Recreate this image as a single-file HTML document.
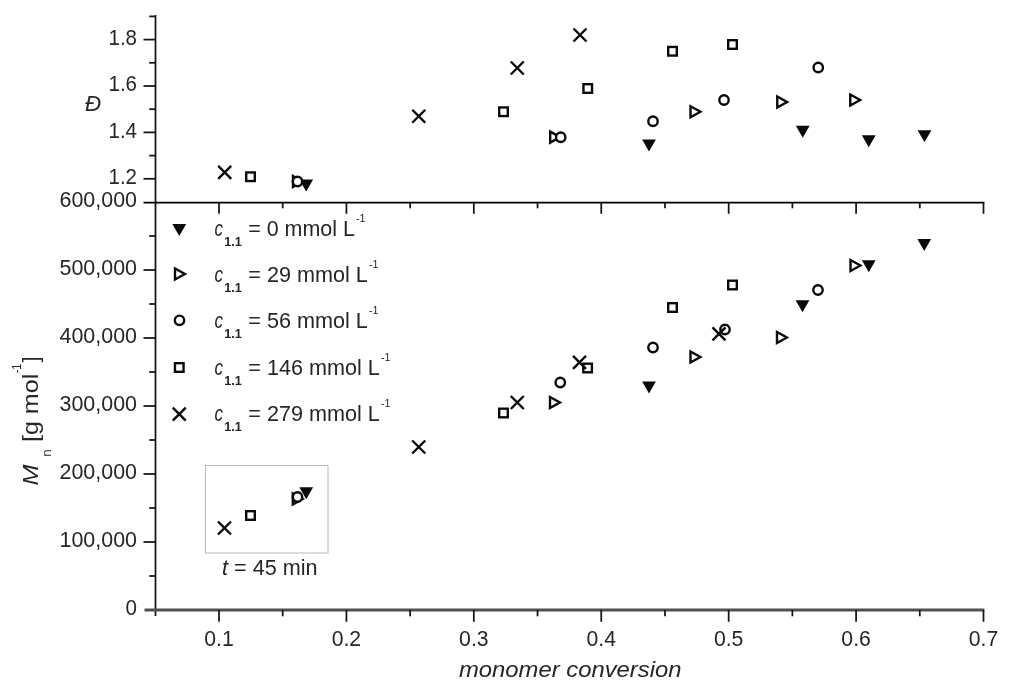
<!DOCTYPE html>
<html lang="en"><head><meta charset="utf-8"><title>Mn and dispersity vs monomer conversion</title>
<style>html,body{margin:0;padding:0;background:#fff;}body{width:1024px;height:697px;overflow:hidden;}svg{display:block;}text{font-family:"Liberation Sans", sans-serif;fill:#262626;}.ax{stroke:#141414;stroke-width:1.75;fill:none;stroke-linecap:butt;}.m{stroke:#0a0a0a;stroke-width:2.4;fill:#fff;}.x{stroke:#0a0a0a;stroke-width:2.4;fill:none;}.f{fill:#0a0a0a;stroke:none;}</style></head><body>
<svg width="1024" height="697" viewBox="0 0 1024 697">
<rect x="0" y="0" width="1024" height="697" fill="#ffffff"/>
<g class="ax">
<line x1="155.50" y1="15" x2="155.50" y2="616"/>
<line x1="144.5" y1="610.00" x2="984.30" y2="610.00" stroke="#505050" stroke-width="2.8"/>
<line x1="143.5" y1="202.50" x2="984.30" y2="202.50" stroke="#000"/>
<line x1="143.50" y1="178.80" x2="155.50" y2="178.80"/>
<line x1="149.20" y1="155.60" x2="155.50" y2="155.60"/>
<line x1="143.50" y1="132.40" x2="155.50" y2="132.40"/>
<line x1="149.20" y1="109.20" x2="155.50" y2="109.20"/>
<line x1="143.50" y1="86.00" x2="155.50" y2="86.00"/>
<line x1="149.20" y1="62.80" x2="155.50" y2="62.80"/>
<line x1="143.50" y1="39.60" x2="155.50" y2="39.60"/>
<line x1="149.20" y1="16.40" x2="155.50" y2="16.40"/>
<line x1="149.20" y1="576.00" x2="155.50" y2="576.00"/>
<line x1="143.50" y1="542.00" x2="155.50" y2="542.00"/>
<line x1="149.20" y1="508.00" x2="155.50" y2="508.00"/>
<line x1="143.50" y1="474.00" x2="155.50" y2="474.00"/>
<line x1="149.20" y1="440.00" x2="155.50" y2="440.00"/>
<line x1="143.50" y1="406.00" x2="155.50" y2="406.00"/>
<line x1="149.20" y1="372.00" x2="155.50" y2="372.00"/>
<line x1="143.50" y1="338.00" x2="155.50" y2="338.00"/>
<line x1="149.20" y1="304.00" x2="155.50" y2="304.00"/>
<line x1="143.50" y1="270.00" x2="155.50" y2="270.00"/>
<line x1="149.20" y1="236.00" x2="155.50" y2="236.00"/>
<line x1="219.00" y1="610.00" x2="219.00" y2="621.80"/>
<line x1="219.00" y1="202.00" x2="219.00" y2="213.80"/>
<line x1="282.71" y1="610.00" x2="282.71" y2="616.30"/>
<line x1="282.71" y1="202.00" x2="282.71" y2="208.30"/>
<line x1="346.42" y1="610.00" x2="346.42" y2="621.80"/>
<line x1="346.42" y1="202.00" x2="346.42" y2="213.80"/>
<line x1="410.13" y1="610.00" x2="410.13" y2="616.30"/>
<line x1="410.13" y1="202.00" x2="410.13" y2="208.30"/>
<line x1="473.83" y1="610.00" x2="473.83" y2="621.80"/>
<line x1="473.83" y1="202.00" x2="473.83" y2="213.80"/>
<line x1="537.54" y1="610.00" x2="537.54" y2="616.30"/>
<line x1="537.54" y1="202.00" x2="537.54" y2="208.30"/>
<line x1="601.25" y1="610.00" x2="601.25" y2="621.80"/>
<line x1="601.25" y1="202.00" x2="601.25" y2="213.80"/>
<line x1="664.96" y1="610.00" x2="664.96" y2="616.30"/>
<line x1="664.96" y1="202.00" x2="664.96" y2="208.30"/>
<line x1="728.67" y1="610.00" x2="728.67" y2="621.80"/>
<line x1="728.67" y1="202.00" x2="728.67" y2="213.80"/>
<line x1="792.38" y1="610.00" x2="792.38" y2="616.30"/>
<line x1="792.38" y1="202.00" x2="792.38" y2="208.30"/>
<line x1="856.09" y1="610.00" x2="856.09" y2="621.80"/>
<line x1="856.09" y1="202.00" x2="856.09" y2="213.80"/>
<line x1="919.79" y1="610.00" x2="919.79" y2="616.30"/>
<line x1="919.79" y1="202.00" x2="919.79" y2="208.30"/>
<line x1="983.50" y1="610.00" x2="983.50" y2="621.80"/>
<line x1="983.50" y1="202.00" x2="983.50" y2="213.80"/>
</g>
<text x="137.00" y="184.00" font-size="22" text-anchor="end" textLength="28.5" lengthAdjust="spacingAndGlyphs">1.2</text>
<text x="137.00" y="137.60" font-size="22" text-anchor="end" textLength="28.5" lengthAdjust="spacingAndGlyphs">1.4</text>
<text x="137.00" y="91.20" font-size="22" text-anchor="end" textLength="28.5" lengthAdjust="spacingAndGlyphs">1.6</text>
<text x="137.00" y="44.80" font-size="22" text-anchor="end" textLength="28.5" lengthAdjust="spacingAndGlyphs">1.8</text>
<text x="137.00" y="614.50" font-size="22" text-anchor="end" textLength="11.5" lengthAdjust="spacingAndGlyphs">0</text>
<text x="137.00" y="546.50" font-size="22" text-anchor="end" textLength="77.5" lengthAdjust="spacingAndGlyphs">100,000</text>
<text x="137.00" y="478.50" font-size="22" text-anchor="end" textLength="77.5" lengthAdjust="spacingAndGlyphs">200,000</text>
<text x="137.00" y="410.50" font-size="22" text-anchor="end" textLength="77.5" lengthAdjust="spacingAndGlyphs">300,000</text>
<text x="137.00" y="342.50" font-size="22" text-anchor="end" textLength="77.5" lengthAdjust="spacingAndGlyphs">400,000</text>
<text x="137.00" y="274.50" font-size="22" text-anchor="end" textLength="77.5" lengthAdjust="spacingAndGlyphs">500,000</text>
<text x="137.00" y="206.50" font-size="22" text-anchor="end" textLength="77.5" lengthAdjust="spacingAndGlyphs">600,000</text>
<text x="219.00" y="646.00" font-size="22" text-anchor="middle" textLength="29.5" lengthAdjust="spacingAndGlyphs">0.1</text>
<text x="346.42" y="646.00" font-size="22" text-anchor="middle" textLength="29.5" lengthAdjust="spacingAndGlyphs">0.2</text>
<text x="473.83" y="646.00" font-size="22" text-anchor="middle" textLength="29.5" lengthAdjust="spacingAndGlyphs">0.3</text>
<text x="601.25" y="646.00" font-size="22" text-anchor="middle" textLength="29.5" lengthAdjust="spacingAndGlyphs">0.4</text>
<text x="728.67" y="646.00" font-size="22" text-anchor="middle" textLength="29.5" lengthAdjust="spacingAndGlyphs">0.5</text>
<text x="856.09" y="646.00" font-size="22" text-anchor="middle" textLength="29.5" lengthAdjust="spacingAndGlyphs">0.6</text>
<text x="983.50" y="646.00" font-size="22" text-anchor="middle" textLength="29.5" lengthAdjust="spacingAndGlyphs">0.7</text>
<text x="459.00" y="677.40" font-size="22" text-anchor="start" textLength="222.5" lengthAdjust="spacingAndGlyphs" font-style="italic">monomer conversion</text>
<text x="85.00" y="111.30" font-size="22" text-anchor="start" textLength="16.0" lengthAdjust="spacingAndGlyphs" font-style="italic">Đ</text>
<g transform="translate(37.5,484.6) rotate(-90)">
<text x="-1" y="0" font-size="22" font-style="italic" textLength="21" lengthAdjust="spacingAndGlyphs">M</text>
<text x="27.8" y="13" font-size="12" textLength="7.5" lengthAdjust="spacingAndGlyphs">n</text>
<text x="42.5" y="0" font-size="22" textLength="68.5" lengthAdjust="spacingAndGlyphs">[g mol</text>
<text x="111.3" y="-16.3" font-size="12.5" textLength="9.8" lengthAdjust="spacingAndGlyphs">-1</text>
<text x="122.2" y="0" font-size="22">]</text>
</g>
<path class="f" d="M299.30 179.40L313.10 179.40L306.20 191.40Z"/>
<path class="f" d="M642.10 139.60L655.90 139.60L649.00 151.60Z"/>
<path class="f" d="M795.85 125.75L809.65 125.75L802.75 137.75Z"/>
<path class="f" d="M861.85 135.25L875.65 135.25L868.75 147.25Z"/>
<path class="f" d="M917.60 130.25L931.40 130.25L924.50 142.25Z"/>
<path class="m" d="M293.00 176.00L302.90 181.50L293.00 187.00Z"/>
<path class="m" d="M550.20 131.60L560.10 137.10L550.20 142.60Z"/>
<path class="m" d="M690.50 106.25L700.40 111.75L690.50 117.25Z"/>
<path class="m" d="M777.25 96.50L787.15 102.00L777.25 107.50Z"/>
<path class="m" d="M850.25 94.50L860.15 100.00L850.25 105.50Z"/>
<circle class="m" cx="297.50" cy="181.50" r="4.70"/>
<circle class="m" cx="560.70" cy="137.25" r="4.70"/>
<circle class="m" cx="653.00" cy="121.25" r="4.70"/>
<circle class="m" cx="724.00" cy="100.00" r="4.70"/>
<circle class="m" cx="818.25" cy="67.50" r="4.70"/>
<rect class="m" x="246.20" y="172.45" width="8.60" height="8.60"/>
<rect class="m" x="499.20" y="107.45" width="8.60" height="8.60"/>
<rect class="m" x="583.45" y="84.20" width="8.60" height="8.60"/>
<rect class="m" x="668.20" y="46.95" width="8.60" height="8.60"/>
<rect class="m" x="728.20" y="40.20" width="8.60" height="8.60"/>
<path class="x" d="M218.20 165.80L231.20 178.80M218.20 178.80L231.20 165.80"/>
<path class="x" d="M412.25 109.75L425.25 122.75M412.25 122.75L425.25 109.75"/>
<path class="x" d="M510.75 61.50L523.75 74.50M510.75 74.50L523.75 61.50"/>
<path class="x" d="M573.50 28.50L586.50 41.50M573.50 41.50L586.50 28.50"/>
<path class="f" d="M299.35 487.30L313.15 487.30L306.25 499.30Z"/>
<path class="f" d="M642.10 381.50L655.90 381.50L649.00 393.50Z"/>
<path class="f" d="M795.60 300.25L809.40 300.25L802.50 312.25Z"/>
<path class="f" d="M861.85 260.25L875.65 260.25L868.75 272.25Z"/>
<path class="f" d="M917.35 239.00L931.15 239.00L924.25 251.00Z"/>
<path class="m" d="M292.80 493.50L302.70 499.00L292.80 504.50Z"/>
<path class="m" d="M550.00 397.00L559.90 402.50L550.00 408.00Z"/>
<path class="m" d="M690.50 351.50L700.40 357.00L690.50 362.50Z"/>
<path class="m" d="M777.00 332.00L786.90 337.50L777.00 343.00Z"/>
<path class="m" d="M850.50 260.00L860.40 265.50L850.50 271.00Z"/>
<circle class="m" cx="297.50" cy="497.00" r="4.70"/>
<circle class="m" cx="560.25" cy="382.50" r="4.70"/>
<circle class="m" cx="653.00" cy="347.50" r="4.70"/>
<circle class="m" cx="725.00" cy="329.50" r="4.70"/>
<circle class="m" cx="818.00" cy="290.00" r="4.70"/>
<rect class="m" x="246.20" y="511.20" width="8.60" height="8.60"/>
<rect class="m" x="499.20" y="408.70" width="8.60" height="8.60"/>
<rect class="m" x="583.30" y="363.70" width="8.60" height="8.60"/>
<rect class="m" x="668.20" y="303.20" width="8.60" height="8.60"/>
<rect class="m" x="728.20" y="280.70" width="8.60" height="8.60"/>
<path class="x" d="M218.00 521.50L231.00 534.50M218.00 534.50L231.00 521.50"/>
<path class="x" d="M412.25 440.50L425.25 453.50M412.25 453.50L425.25 440.50"/>
<path class="x" d="M510.75 396.00L523.75 409.00M510.75 409.00L523.75 396.00"/>
<path class="x" d="M573.00 355.80L586.00 368.80M573.00 368.80L586.00 355.80"/>
<path class="x" d="M712.50 327.30L725.50 340.30M712.50 340.30L725.50 327.30"/>
<rect x="205.5" y="465.5" width="122.5" height="87.5" fill="none" stroke="#b8b8b8" stroke-width="1"/>
<text x="222" y="575" font-size="22" textLength="95.5" lengthAdjust="spacingAndGlyphs"><tspan font-style="italic">t</tspan> = 45 min</text>
<path class="f" d="M172.35 224.00L186.15 224.00L179.25 236.00Z"/>
<text x="214.5" y="236.30" font-size="22" font-style="italic" textLength="8.5" lengthAdjust="spacingAndGlyphs">c</text>
<text x="224.3" y="246.30" font-size="12" font-weight="bold" textLength="17.6" lengthAdjust="spacingAndGlyphs">1.1</text>
<text x="248.3" y="236.30" font-size="22" textLength="106.5" lengthAdjust="spacingAndGlyphs">= 0 mmol L</text>
<text x="356.00" y="222.30" font-size="10" textLength="9.5" lengthAdjust="spacingAndGlyphs">-1</text>
<path class="m" d="M175.00 268.50L184.90 274.00L175.00 279.50Z"/>
<text x="214.5" y="282.00" font-size="22" font-style="italic" textLength="8.5" lengthAdjust="spacingAndGlyphs">c</text>
<text x="224.3" y="292.00" font-size="12" font-weight="bold" textLength="17.6" lengthAdjust="spacingAndGlyphs">1.1</text>
<text x="248.3" y="282.00" font-size="22" textLength="119.5" lengthAdjust="spacingAndGlyphs">= 29 mmol L</text>
<text x="369.00" y="268.00" font-size="10" textLength="9.5" lengthAdjust="spacingAndGlyphs">-1</text>
<circle class="m" cx="179.50" cy="320.30" r="4.70"/>
<text x="214.5" y="328.25" font-size="22" font-style="italic" textLength="8.5" lengthAdjust="spacingAndGlyphs">c</text>
<text x="224.3" y="338.25" font-size="12" font-weight="bold" textLength="17.6" lengthAdjust="spacingAndGlyphs">1.1</text>
<text x="248.3" y="328.25" font-size="22" textLength="119.5" lengthAdjust="spacingAndGlyphs">= 56 mmol L</text>
<text x="369.00" y="314.25" font-size="10" textLength="9.5" lengthAdjust="spacingAndGlyphs">-1</text>
<rect class="m" x="174.95" y="363.20" width="8.60" height="8.60"/>
<text x="214.5" y="374.50" font-size="22" font-style="italic" textLength="8.5" lengthAdjust="spacingAndGlyphs">c</text>
<text x="224.3" y="384.50" font-size="12" font-weight="bold" textLength="17.6" lengthAdjust="spacingAndGlyphs">1.1</text>
<text x="248.3" y="374.50" font-size="22" textLength="131.5" lengthAdjust="spacingAndGlyphs">= 146 mmol L</text>
<text x="381.00" y="360.50" font-size="10" textLength="9.5" lengthAdjust="spacingAndGlyphs">-1</text>
<path class="x" d="M172.75 407.70L185.75 420.70M172.75 420.70L185.75 407.70"/>
<text x="214.5" y="420.50" font-size="22" font-style="italic" textLength="8.5" lengthAdjust="spacingAndGlyphs">c</text>
<text x="224.3" y="430.50" font-size="12" font-weight="bold" textLength="17.6" lengthAdjust="spacingAndGlyphs">1.1</text>
<text x="248.3" y="420.50" font-size="22" textLength="131.5" lengthAdjust="spacingAndGlyphs">= 279 mmol L</text>
<text x="381.00" y="406.50" font-size="10" textLength="9.5" lengthAdjust="spacingAndGlyphs">-1</text>
</svg></body></html>
